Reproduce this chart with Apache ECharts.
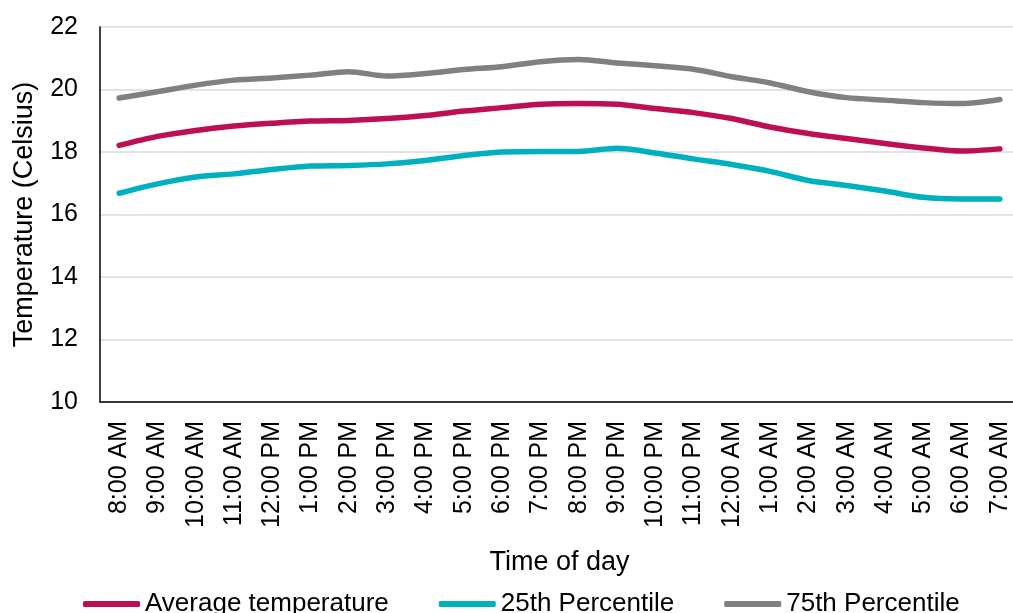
<!DOCTYPE html>
<html>
<head>
<meta charset="utf-8">
<title>Temperature by time of day</title>
<script src="https://cdn.jsdelivr.net/npm/echarts@6/dist/echarts.min.js"></script>
<style>
  html, body { margin: 0; padding: 0; background: #ffffff; }
  #chart { width: 1013px; height: 613px; }
</style>
</head>
<body>
<div id="chart"></div>
<script>
// Hourly categories, starting at 8:00 AM
const hours = [
  '8:00 AM', '9:00 AM', '10:00 AM', '11:00 AM', '12:00 PM', '1:00 PM',
  '2:00 PM', '3:00 PM', '4:00 PM', '5:00 PM', '6:00 PM', '7:00 PM',
  '8:00 PM', '9:00 PM', '10:00 PM', '11:00 PM', '12:00 AM', '1:00 AM',
  '2:00 AM', '3:00 AM', '4:00 AM', '5:00 AM', '6:00 AM', '7:00 AM'
];

// Temperatures in degrees Celsius
const averageTemp = [
  18.21, 18.50, 18.69, 18.83, 18.92, 18.99,
  19.01, 19.07, 19.17, 19.31, 19.42, 19.53,
  19.55, 19.53, 19.39, 19.26, 19.07, 18.80,
  18.59, 18.43, 18.27, 18.13, 18.03, 18.10
];
const p25Temp = [
  16.68, 16.98, 17.20, 17.30, 17.44, 17.55,
  17.57, 17.62, 17.73, 17.89, 18.00, 18.02,
  18.02, 18.12, 17.97, 17.78, 17.60, 17.38,
  17.09, 16.93, 16.75, 16.55, 16.50, 16.50
];
const p75Temp = [
  19.73, 19.93, 20.14, 20.30, 20.37, 20.46,
  20.57, 20.43, 20.51, 20.64, 20.73, 20.89,
  20.96, 20.85, 20.76, 20.65, 20.41, 20.21,
  19.93, 19.74, 19.66, 19.58, 19.55, 19.68
];

const FONT = '"Liberation Sans", Arial, sans-serif';

const chart = echarts.init(document.getElementById('chart'), null, { renderer: 'canvas' });

function lineSeries(name, data, color) {
  return {
    name: name,
    type: 'line',
    data: data,
    smooth: 0.3,
    showSymbol: false,
    symbol: 'none',
    color: color,
    lineStyle: { width: 5.5, color: color, cap: 'round', join: 'round' },
    emphasis: { disabled: true }
  };
}

chart.setOption({
  animation: false,
  backgroundColor: '#ffffff',
  textStyle: { fontFamily: FONT, color: '#000000' },
  // plot area runs slightly past the right edge of the canvas
  grid: { left: 100, top: 27, width: 919, bottom: 211, containLabel: false, outerBoundsMode: 'none' },
  legend: {
    left: 78,
    top: 586,
    itemWidth: 57,
    itemHeight: 6,
    itemGap: 50,
    icon: 'roundRect',
    textStyle: { fontFamily: FONT, fontSize: 26, color: '#000000' },
    data: ['Average temperature', '25th Percentile', '75th Percentile']
  },
  xAxis: {
    type: 'category',
    data: hours,
    boundaryGap: true,
    name: 'Time of day',
    nameLocation: 'middle',
    nameGap: 147,
    nameTextStyle: { fontFamily: FONT, fontSize: 27, color: '#000000' },
    axisLine: { lineStyle: { color: '#000000', width: 1.5 } },
    axisTick: { show: false },
    axisLabel: {
      rotate: 90,
      margin: 19,
      interval: 0,
      fontFamily: FONT,
      fontSize: 25,
      color: '#000000'
    },
    splitLine: { show: false }
  },
  yAxis: {
    type: 'value',
    min: 10,
    max: 22,
    interval: 2,
    name: 'Temperature (Celsius)',
    nameLocation: 'middle',
    nameGap: 62,
    nameRotate: 90,
    nameTextStyle: { fontFamily: FONT, fontSize: 27, color: '#000000' },
    axisLine: { show: true, lineStyle: { color: '#000000', width: 1.5 } },
    axisTick: { show: false },
    axisLabel: { margin: 22, fontFamily: FONT, fontSize: 25, color: '#000000' },
    splitLine: { lineStyle: { color: '#d9d9d9', width: 1.5 } }
  },
  series: [
    lineSeries('Average temperature', averageTemp, '#BE0F55'),
    lineSeries('25th Percentile', p25Temp, '#00B0BF'),
    lineSeries('75th Percentile', p75Temp, '#808080')
  ]
});
</script>
</body>
</html>
